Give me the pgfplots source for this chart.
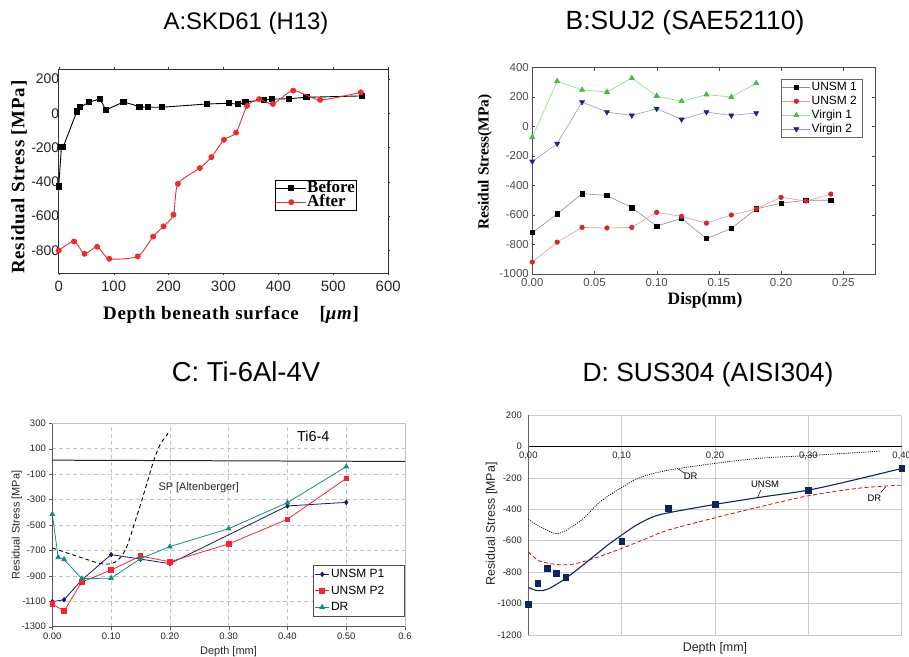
\documentclass[border=0pt]{standalone}
\usepackage{fontspec}
\setmainfont{Liberation Sans}
\newfontfamily\tnr{Liberation Serif}[LetterSpace=4]
\newfontfamily\tnrb{Liberation Serif}
\usepackage{pgfplots}
\pgfplotsset{compat=1.18}

\definecolor{aRed}{RGB}{235,45,45}
\definecolor{bBlackLine}{RGB}{140,140,140}
\definecolor{bRed}{RGB}{215,40,40}
\definecolor{bRedLine}{RGB}{230,150,150}
\definecolor{bGreen}{RGB}{70,185,70}
\definecolor{bGreenLine}{RGB}{150,220,150}
\definecolor{bBlue}{RGB}{30,30,150}
\definecolor{bBlueLine}{RGB}{150,150,190}
\definecolor{cNavy}{RGB}{25,25,105}
\definecolor{cRed}{RGB}{250,35,45}
\definecolor{cTeal}{RGB}{20,140,130}
\definecolor{dNavy}{RGB}{15,35,95}

\pgfplotsset{
  every axis/.append style={
    scale only axis,
    anchor=north west,
    /pgf/number format/assume math mode=true,
    /pgf/number format/1000 sep={},
    clip mode=individual,
  },
  legline/.style={legend image code/.code={
    \draw[mark repeat=2, mark phase=2, ##1] plot coordinates {(0bp,0bp) (#1/2,0bp) (#1,0bp)};}},
}

\begin{document}
\begin{tikzpicture}
\useasboundingbox (0,0) rectangle (909bp,-657bp);

% titles
\node[font=\fontsize{24}{28}\selectfont, anchor=base] at (246bp,-29.5bp) {A:SKD61 (H13)};
\node[font=\fontsize{26.5}{28}\selectfont, anchor=base] at (685bp,-29.5bp) {B:SUJ2 (SAE52110)};
\node[font=\fontsize{27.5}{28}\selectfont, anchor=base] at (246bp,-381bp) {C: Ti-6Al-4V};
\node[font=\fontsize{26.5}{28}\selectfont, anchor=base] at (708bp,-381bp) {D: SUS304 (AISI304)};

% ---------- A ----------
\begin{axis}[
  at={(58.7bp,-69bp)},
  width=329.5bp, height=204bp,
  xmin=0, xmax=600, ymin=-932, ymax=258,
  xtick={0,100,...,600}, ytick={-800,-600,...,200},
  axis line style={black!80, line width=0.9pt},
  tick style={black!80}, tick align=outside, major tick length=2bp,
  tick label style={font=\fontsize{15}{15}\selectfont, text=black!85},
  yticklabel style={font=\fontsize{14}{14}\selectfont, xshift=6bp},
  xticklabel style={yshift=-3bp},
  xlabel={Depth beneath surface\hspace{1.1em}[\textit{μm}]},
  ylabel={Residual Stress [MPa]},
  label style={font=\tnr\bfseries\fontsize{19}{19}\selectfont},
  xlabel style={at={(axis description cs:0.523,-0.206)}, anchor=center},
  ylabel style={at={(axis description cs:-0.12,0.47)}, anchor=center},
  legline=30bp,
  legend style={at={(0.655,0.456)}, anchor=north west, draw=black, line width=0.6pt,
    font=\tnrb\bfseries\fontsize{17}{14}\selectfont, inner sep=1pt, row sep=0pt,
    nodes={inner sep=0.5pt, text height=11pt, text depth=2pt}},
  legend cell align=left,
]
\addplot[black, line width=0.9pt, mark=square*, mark size=2.6pt] coordinates {
  (0,-427) (5,-198) (8,-198) (33,10) (39,35) (55,64) (75,84) (86,19) (118,66)
  (147,39) (162,35) (188,35) (270,54) (310,58) (327,52) (340,66) (374,78)
  (388,82) (420,85) (451,93) (552,101)
};
\addlegendentry{Before}
\addplot[aRed, line width=0.9pt, mark=*, mark size=2.5pt, smooth, tension=0.4] coordinates {
  (0,-800) (28,-748) (47,-820) (70,-779) (92,-849) (144,-835) (172,-719)
  (191,-660) (209,-592) (217,-412) (257,-320) (278,-256) (301,-155) (323,-113)
  (343,43) (365,82) (390,54) (427,132) (476,78) (550,122)
};
\addlegendentry{After}
\end{axis}

% ---------- B ----------
\begin{axis}[
  at={(532.3bp,-67.5bp)},
  width=342.7bp, height=206.5bp,
  xmin=0, xmax=0.2755, ymin=-1000, ymax=400,
  xtick={0,0.05,0.1,0.15,0.2,0.25},
  xticklabels={0.00,0.05,0.10,0.15,0.20,0.25},
  ytick={-1000,-800,...,400},
  axis line style={black!70, line width=0.7pt},
  tick style={black!70}, tick align=inside, major tick length=3bp,
  tick label style={font=\fontsize{11.5}{12}\selectfont, text=black!70},
  xticklabel style={yshift=-1bp},
  xlabel={Disp(mm)},
  ylabel={Residul Stress(MPa)},
  xlabel style={font=\tnrb\bfseries\fontsize{17.5}{18}\selectfont,
    at={(axis description cs:0.504,-0.126)}, anchor=center},
  ylabel style={font=\tnrb\bfseries\fontsize{15.5}{16}\selectfont,
    at={(axis description cs:-0.138,0.542)}, anchor=center},
  legline=28bp,
  legend style={at={(0.725,0.944)}, anchor=north west, draw=black!60, line width=0.5pt,
    font=\fontsize{12}{12}\selectfont, inner sep=1pt, row sep=0pt,
    nodes={inner sep=1pt, text height=9pt, text depth=3pt}},
  legend cell align=left,
]
\addplot[bBlackLine, line width=0.6pt, mark=square*, mark size=2.2pt,
  mark options={fill=black, draw=black}] coordinates {
  (0,-719) (0.02,-593) (0.04,-455) (0.06,-468) (0.08,-550) (0.10,-675)
  (0.12,-623) (0.14,-760) (0.16,-691) (0.18,-559) (0.20,-520) (0.22,-500) (0.24,-500)
};
\addlegendentry{UNSM 1\hspace*{3bp}}
\addplot[bRedLine, line width=0.6pt, mark=*, mark size=2.3pt,
  mark options={fill=bRed, draw=bRed}] coordinates {
  (0,-919) (0.02,-784) (0.04,-684) (0.06,-688) (0.08,-684) (0.10,-582)
  (0.12,-609) (0.14,-655) (0.16,-600) (0.18,-559) (0.20,-480) (0.22,-505) (0.24,-458)
};
\addlegendentry{UNSM 2}
\addplot[bGreenLine, line width=0.7pt, mark=triangle*, mark size=2.9pt,
  mark options={fill=bGreen, draw=bGreen}] coordinates {
  (0,-73) (0.02,307) (0.04,248) (0.06,234) (0.08,328) (0.10,207)
  (0.12,171) (0.14,216) (0.16,200) (0.18,293)
};
\addlegendentry{Virgin 1}
\addplot[bBlueLine, line width=0.6pt, mark=triangle*, mark size=2.9pt,
  mark options={fill=bBlue, draw=bBlue, rotate=180}] coordinates {
  (0,-237) (0.02,-116) (0.04,166) (0.06,98) (0.08,75) (0.10,121)
  (0.12,48) (0.14,98) (0.16,75) (0.18,91)
};
\addlegendentry{Virgin 2}
\end{axis}

% ---------- C ----------
\begin{axis}[
  at={(52.3bp,-423.3bp)},
  width=352.7bp, height=203.4bp,
  xmin=0, xmax=0.6, ymin=-1300, ymax=300,
  xtick={0,0.1,0.2,0.3,0.4,0.5,0.6},
  xticklabels={0.00,0.10,0.20,0.30,0.40,0.50,0.6},
  ytick={-1300,-1100,...,300},
  axis x line*=bottom, axis y line*=left,
  axis line style={-, black!65, line width=0.8pt},
  grid=major, grid style={gray!45, dash pattern=on 4bp off 3bp, line width=0.5pt},
  tick style={black!65}, tick align=outside, major tick length=3bp,
  tick label style={font=\fontsize{9.5}{10}\selectfont, text=black!85},
  xlabel={Depth [mm]},
  ylabel={Residual Stress [MPa]},
  label style={font=\fontsize{11}{11}\selectfont, text=black!85},
  xlabel style={at={(axis description cs:0.4996,-0.123)}, anchor=center},
  ylabel style={at={(axis description cs:-0.101,0.5)}, anchor=center},
  legline=14bp,
  legend style={at={(1,0.049)}, anchor=south east, draw=black!70, line width=0.6pt,
    font=\fontsize{12}{12}\selectfont, inner sep=1pt, row sep=0pt,
    nodes={inner sep=1.5pt, text height=10pt, text depth=3.5pt}},
  legend cell align=left,
]
\draw[gray!50, line width=0.6pt] (rel axis cs:0,1) -- (rel axis cs:1,1) -- (rel axis cs:1,0);
\addplot[black!85, line width=1pt, forget plot] coordinates {(0,10) (0.6,0)};
\addplot[black, line width=0.9pt, dash pattern=on 4bp off 3bp, smooth, tension=0.5, forget plot] coordinates {
  (0,-681) (0.024,-718) (0.053,-762) (0.081,-802) (0.1,-805) (0.112,-775)
  (0.121,-723) (0.129,-644) (0.138,-513) (0.149,-356) (0.161,-172)
  (0.172,-2) (0.183,129) (0.197,221)
};
\addplot[cNavy, line width=0.8pt, mark=diamond*, mark size=2.2pt] coordinates {
  (0,-1103) (0.02,-1088) (0.05,-933) (0.10,-733) (0.15,-768) (0.20,-804)
  (0.40,-350) (0.50,-322)
};
\addlegendentry{UNSM P1}
\addplot[cRed, line width=0.8pt, mark=square*, mark size=2.3pt] coordinates {
  (0,-1122) (0.02,-1177) (0.05,-949) (0.10,-854) (0.15,-744) (0.20,-789)
  (0.30,-649) (0.40,-455) (0.50,-133)
};
\addlegendentry{UNSM P2\hspace*{18bp}}
\addplot[cTeal, line width=0.8pt, mark=triangle*, mark size=2.6pt] coordinates {
  (0,-415) (0.01,-755) (0.02,-770) (0.05,-922) (0.10,-918) (0.15,-765)
  (0.20,-670) (0.30,-529) (0.40,-324) (0.50,-41)
};
\addlegendentry{DR}
\node[anchor=west, font=\fontsize{11}{11}\selectfont, text=black!85] at (axis cs:0.1747,-204) {SP [Altenberger]};
\node[font=\fontsize{14.5}{15}\selectfont] at (axis cs:0.444,195) {Ti6-4};
\end{axis}

% ---------- D ----------
\begin{axis}[
  at={(528.3bp,-415bp)},
  width=373.4bp, height=220bp,
  xmin=0, xmax=0.4, ymin=-1200, ymax=200,
  xtick={0,0.1,0.2,0.3,0.4},
  xticklabels={{0,00},{0,10},{0,20},{0,30},{0,40}},
  ytick={-1200,-1000,...,200},
  axis x line=middle, axis y line=left,
  axis line style={-},
  x axis line style={black, line width=0.9pt},
  y axis line style={black!60, line width=1.6pt},
  hide obscured x ticks=false, hide obscured y ticks=false,
  grid=major, grid style={gray!40, line width=0.7pt},
  major tick length=0pt,
  tick label style={font=\fontsize{9.5}{10}\selectfont, text=black!85},
  xticklabel style={yshift=-2bp},
  yticklabel style={xshift=-3bp},
  xlabel={Depth [mm]},
  ylabel={Residual Stress [MPa]},
  label style={font=\fontsize{12.5}{13}\selectfont, text=black!85},
  xlabel style={at={(axis description cs:0.5,-0.059)}, anchor=center},
  ylabel style={at={(axis description cs:-0.098,0.5045)}, anchor=center},
]
\addplot[black, line width=0.8pt, dash pattern=on 1bp off 1.2bp, smooth, tension=0.5] coordinates {
  (0,-464) (0.0125,-511) (0.029,-554) (0.041,-532) (0.059,-458) (0.077,-352)
  (0.1,-261) (0.12,-197) (0.15,-151) (0.2,-108) (0.248,-75) (0.3,-58) (0.377,-30)
};
\addplot[red!90!black, line width=0.8pt, dash pattern=on 4bp off 2.5bp, smooth, tension=0.5] coordinates {
  (0,-670) (0.011,-727) (0.03,-751) (0.048,-749) (0.07,-713) (0.1,-649)
  (0.127,-585) (0.15,-532) (0.2,-454) (0.248,-384) (0.3,-314) (0.355,-265) (0.4,-246)
};
\addplot[dNavy, line width=1.1pt, smooth, tension=0.5] coordinates {
  (0,-897) (0.01,-918) (0.02,-910) (0.035,-860) (0.05,-795) (0.07,-700)
  (0.085,-628) (0.1,-564) (0.116,-500) (0.134,-447) (0.152,-420) (0.2,-369)
  (0.25,-322) (0.3,-278) (0.35,-212) (0.4,-140)
};
\addplot[only marks, mark=square*, mark size=2.9pt, mark options={fill=dNavy, draw=dNavy}] coordinates {
  (0,-1003) (0.01,-872) (0.02,-776) (0.03,-806) (0.04,-834) (0.10,-605)
  (0.15,-395) (0.20,-369) (0.30,-280) (0.40,-140)
};
\draw[black, line width=0.5pt] (axis cs:0.1596,-140) -- (axis cs:0.1679,-172);
\draw[black, line width=0.5pt] (axis cs:0.249,-278) -- (axis cs:0.2457,-325);
\draw[black, line width=0.5pt] (axis cs:0.3775,-293) -- (axis cs:0.383,-257);
\node[font=\fontsize{9.5}{10}\selectfont] at (axis cs:0.174,-189) {DR};
\node[font=\fontsize{9.5}{10}\selectfont] at (axis cs:0.2536,-242) {UNSM};
\node[font=\fontsize{9.5}{10}\selectfont] at (axis cs:0.3707,-327) {DR};
\end{axis}
\end{tikzpicture}
\end{document}
